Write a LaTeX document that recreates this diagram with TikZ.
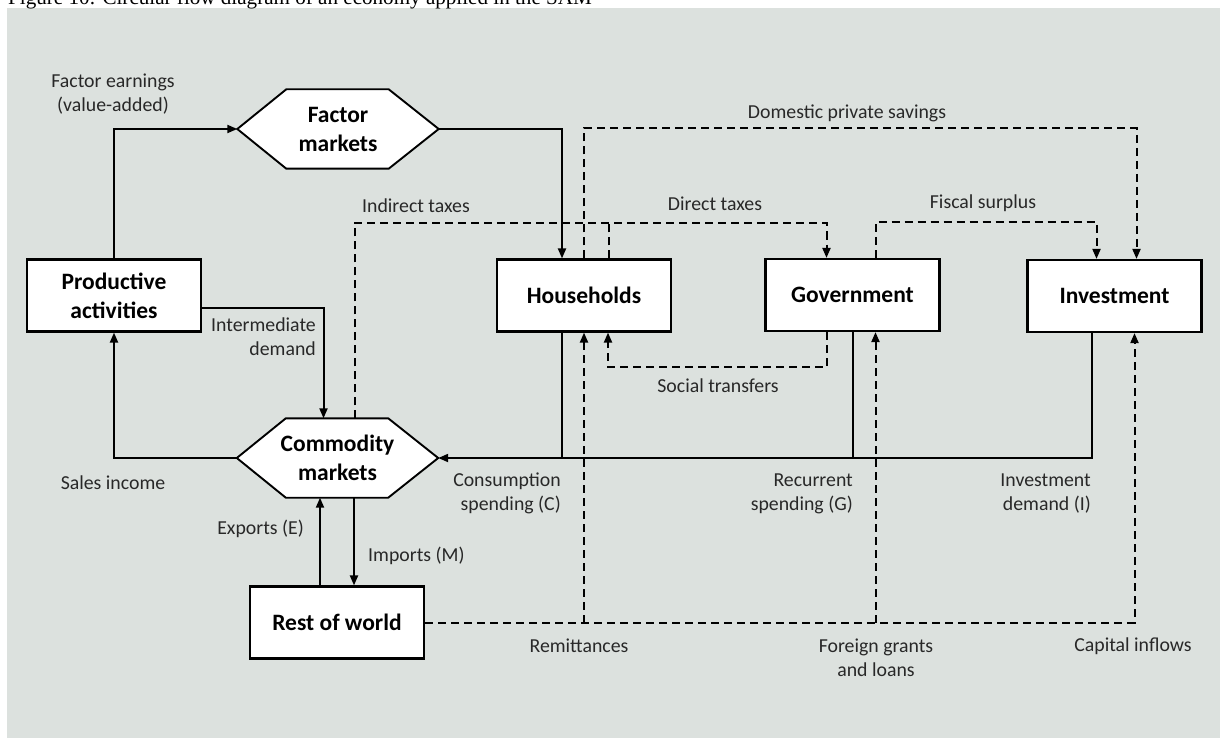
\documentclass[tikz,border=0pt]{standalone}
\usepackage{fontspec}
\setmainfont{Carlito}
\newfontfamily\titlefont{Liberation Serif}
\usetikzlibrary{arrows.meta,calc,backgrounds}
\definecolor{panel}{RGB}{220,225,222}
\definecolor{lbl}{RGB}{40,40,40}
\begin{document}
\begin{tikzpicture}[x=1pt,y=-1pt,
  box/.style={draw, line width=2.2pt, fill=white, minimum width=174pt, minimum height=72pt, inner sep=0pt, align=center, font=\fontsize{23.5}{29}\selectfont\bfseries},
  hexa/.style={minimum width=201pt, minimum height=79pt, inner sep=0pt, align=center, font=\fontsize{23.5}{29}\selectfont\bfseries},
  hexborder/.style={draw, line width=1.9pt, fill=white, line join=miter},
  conn/.style={line width=2pt},
  arr/.style={conn, -{Triangle[length=10pt,width=8pt]}},
  dline/.style={line width=2pt, dash pattern=on 8pt off 5pt},
  darr/.style={dline, -{Triangle[length=10pt,width=8pt]}},
  lab/.style={font=\fontsize{19.8}{24}\selectfont, text=lbl, align=center, inner sep=0pt},
]
\useasboundingbox (0,0) rectangle (1220,738);
\begin{scope}[on background layer]
\fill[white] (0,0) rectangle (1220,738);
\fill[panel] (7,8) rectangle (1220,738);
\end{scope}
\node[anchor=base west, inner sep=0pt, font=\titlefont\fontsize{21.1}{24}\selectfont] (title) at (8,5) {Figure 10: Circular flow diagram of an economy applied in the SAM};

% nodes
\node[box] (pa) at (114,295.5) {Productive\\activities};
\node[box] (hh) at (584,295.5) {Households};
\node[box] (gov) at (852.5,295) {Government};
\node[box] (inv) at (1114.5,296) {Investment};
\node[box] (row) at (337,622.5) {Rest of world};
\node[hexa] (fm) at (338,129) {Factor\\markets};
\node[hexa] (cm) at (337.5,458) {Commodity\\markets};
\begin{scope}[on background layer]
\draw[hexborder] (fm.west) -- ([xshift=49]fm.north west) -- ([xshift=-50]fm.north east) -- (fm.east) -- ([xshift=-50]fm.south east) -- ([xshift=49]fm.south west) -- cycle;
\draw[hexborder] (cm.west) -- ([xshift=49]cm.north west) -- ([xshift=-50]cm.north east) -- (cm.east) -- ([xshift=-50]cm.south east) -- ([xshift=49]cm.south west) -- cycle;
\end{scope}

% helper coordinates
\coordinate (hsL) at ([xshift=-22]hh.south);
\coordinate (hsR) at ([xshift=24]hh.south);
\coordinate (gsL) at ([xshift=-26]gov.south);
\coordinate (gsR) at ([xshift=23]gov.south);
\coordinate (isL) at ([xshift=-23]inv.south);
\coordinate (isR) at ([xshift=20]inv.south);
\coordinate (rnL) at ([xshift=-17]row.north);
\coordinate (rnR) at ([xshift=17]row.north);

% solid flows
\draw[arr] (pa.north) |- (fm.west);
\draw[arr] (fm.east) -| ([xshift=-22]hh.north);
\draw[arr] ([yshift=-12]pa.east) -| ([xshift=-14]cm.north);
\draw[arr] (cm.west) -| (pa.south);
\draw[arr] (isL) |- (cm.east);
\draw[conn] (hsL) -- (hsL |- cm.east);
\draw[conn] (gov.south) -- (gov.south |- cm.east);
\draw[arr] (rnL) -- (rnL |- cm.south);
\draw[arr] (rnR |- cm.south) -- (rnR);

% dashed flows
\draw[darr] (hh.north) -- ([yshift=130]hh.north) -| ([xshift=22]inv.north);
\draw[darr] ([xshift=17]cm.north) |- ([xshift=-26,yshift=35]gov.north) -- ([xshift=-26]gov.north);
\draw[dline] ([xshift=25]hh.north) -- ([xshift=25,yshift=36]hh.north);
\draw[darr] ([xshift=23]gov.north) -- ([xshift=23,yshift=36]gov.north) -| ([xshift=-18]inv.north);
\draw[darr] (gsL) -- ([yshift=-35]gsL) -| (hsR);
\draw[darr] (row.east) -| (isR);
\draw[darr] (hh.south |- row.east) -- (hh.south);
\draw[darr] (gsR |- row.east) -- (gsR);

% labels
\node[lab] (lfe) at (113,94) {Factor earnings\\(value-added)};
\node[lab] (lit) at (416,206) {Indirect taxes};
\node[lab] (ldt) at (715,204) {Direct taxes};
\node[lab] (lds) at (847,113) {Domestic private savings};
\node[lab] (lfs) at (983,203) {Fiscal surplus};
\node[lab, align=right, anchor=east] (lid) at (316,337) {Intermediate\\demand};
\node[lab] (lst) at (718,386) {Social transfers};
\node[lab] (lsi) at (113,483) {Sales income};
\node[lab, align=right, anchor=east] (lcs) at (561,493) {Consumption\\spending (C)};
\node[lab, align=right, anchor=east] (lrs) at (853,494) {Recurrent\\spending (G)};
\node[lab, align=right, anchor=east] (lin) at (1091,494) {Investment\\demand (I)};
\node[lab, anchor=east] (lex) at (304,529) {Exports (E)};
\node[lab, anchor=west] (lim) at (368,556) {Imports (M)};
\node[lab] (lre) at (579,646) {Remittances};
\node[lab] (lfg) at (876,658) {Foreign grants\\and loans};
\node[lab] (lci) at (1133,646) {Capital inflows};
\end{tikzpicture}
\end{document}
